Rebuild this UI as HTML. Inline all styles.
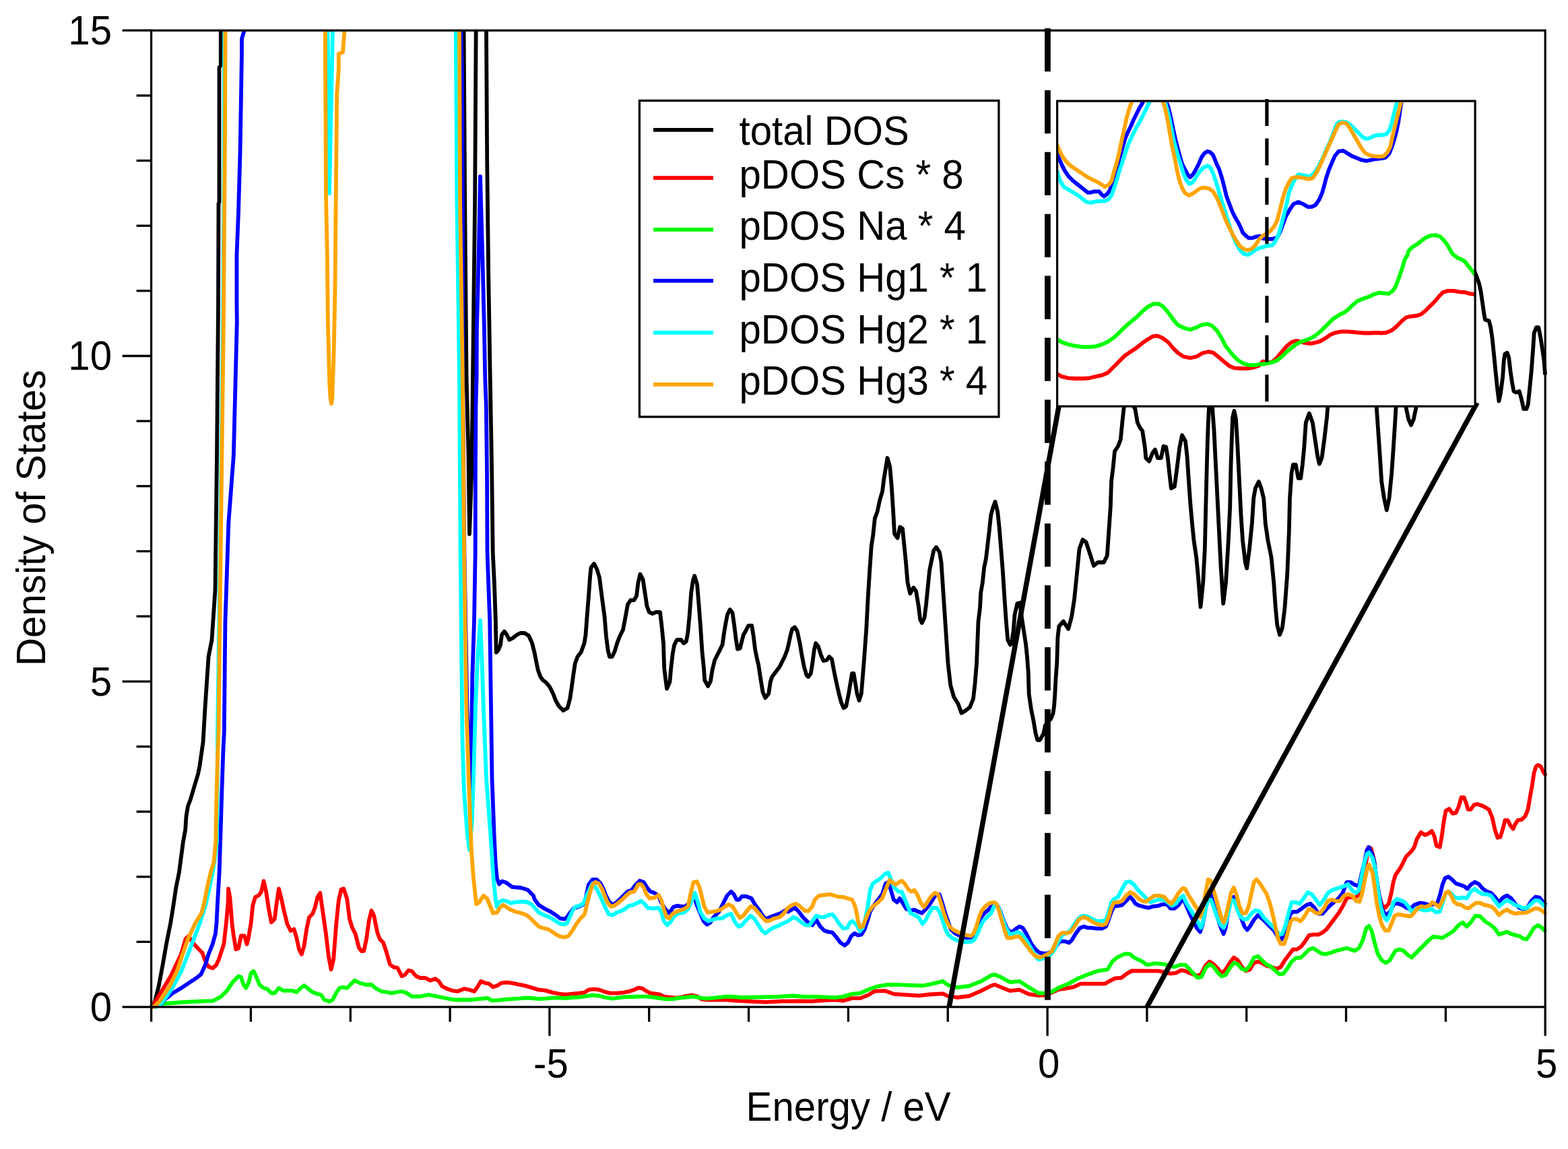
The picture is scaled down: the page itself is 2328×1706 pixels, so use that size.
<!DOCTYPE html>
<html><head><meta charset="utf-8"><title>DOS plot</title><style>html,body{margin:0;padding:0;background:#fff;}svg{display:block;}</style></head><body>
<svg xmlns="http://www.w3.org/2000/svg" width="2328" height="1706" viewBox="0 0 2328 1706">
<rect width="2328" height="1706" fill="#fff"/>
<defs><clipPath id="cm"><rect x="221.6" y="45.2" width="2075.6" height="1452.9"/></clipPath>
<clipPath id="ci"><rect x="1569.6" y="150" width="620.5" height="453.3"/></clipPath></defs>
<g clip-path="url(#cm)">
<path d="M224.6 1495.0 L229.7 1488.0 L235.6 1464.4 L241.5 1433.0 L247.0 1401.5 L253.3 1370.0 L256.8 1348.4 L261.3 1318.1 L265.9 1295.4 L268.9 1272.7 L271.9 1250.0 L275.2 1232.0 L276.5 1212.0 L279.0 1197.0 L282.8 1187.0 L286.5 1174.5 L290.2 1162.0 L294.0 1149.5 L296.5 1137.0 L299.0 1119.5 L301.5 1102.0 L304.6 1049.4 L309.6 974.9 L314.5 950.1 L319.5 875.7 L322.0 677.1 L324.0 453.0 L324.5 302.0 L325.5 300.0 L325.5 100.0 L327.8 97.0 L327.8 30.0 L688.0 30.0 L688.6 45.0 L690.2 300.0 L692.6 560.0 L695.4 670.0 L697.0 793.0 L700.3 700.0 L702.0 560.0 L705.1 300.0 L706.7 45.0 L707.0 30.0 L722.0 30.0 L722.0 45.0 L723.2 240.0 L725.2 407.0 L727.7 560.0 L730.2 700.0 L731.7 820.0 L734.0 868.0 L735.9 922.4 L736.7 968.7 L740.0 965.0 L743.0 957.5 L745.0 942.5 L748.8 937.5 L752.5 942.5 L756.2 950.0 L761.2 947.5 L767.5 942.5 L772.5 940.0 L778.8 940.0 L785.0 943.8 L790.0 955.0 L793.8 970.0 L796.2 982.5 L798.8 995.0 L802.5 1005.0 L806.2 1010.0 L811.2 1013.8 L816.2 1020.0 L821.2 1030.0 L825.0 1040.0 L830.0 1048.8 L836.2 1055.0 L842.5 1051.2 L846.2 1037.5 L848.8 1020.0 L851.2 1002.5 L853.8 985.0 L857.5 975.0 L862.5 968.8 L867.5 955.0 L869.5 942.5 L871.2 920.0 L873.8 887.5 L876.2 855.0 L877.5 842.5 L882.0 837.0 L886.2 845.0 L890.0 857.5 L893.8 887.5 L897.5 915.0 L900.0 945.0 L902.5 965.0 L905.0 975.0 L908.8 975.0 L912.5 967.5 L916.2 955.0 L920.0 945.0 L925.0 935.0 L928.8 915.0 L932.0 897.5 L936.2 891.2 L941.2 891.2 L945.0 885.0 L947.5 865.0 L950.5 852.5 L954.5 860.0 L957.5 880.0 L960.5 900.0 L963.8 908.8 L968.8 911.2 L973.8 908.8 L980.0 908.8 L982.5 930.0 L985.0 955.0 L986.2 992.5 L990.0 1022.5 L994.5 1012.5 L996.2 992.5 L998.8 970.0 L1001.2 957.5 L1005.0 950.0 L1011.2 950.0 L1015.0 955.0 L1018.8 952.5 L1021.2 940.0 L1023.8 912.5 L1026.2 880.0 L1028.8 862.5 L1031.2 855.0 L1035.0 867.5 L1037.5 897.5 L1040.0 930.0 L1042.5 967.5 L1045.0 992.5 L1046.2 1010.0 L1051.2 1018.8 L1055.0 1011.2 L1057.5 995.0 L1061.2 980.0 L1065.0 972.5 L1068.8 965.0 L1072.5 957.5 L1075.0 940.0 L1077.5 925.0 L1080.0 912.5 L1083.8 905.0 L1087.5 910.0 L1090.0 927.5 L1092.5 947.5 L1095.0 963.8 L1098.8 962.5 L1101.2 952.5 L1103.8 942.5 L1107.5 936.2 L1111.2 928.8 L1116.2 928.8 L1118.8 945.0 L1121.2 965.0 L1123.8 977.5 L1126.2 987.5 L1128.8 1005.0 L1132.5 1027.5 L1136.2 1036.2 L1141.2 1030.0 L1143.8 1012.5 L1146.2 1005.0 L1150.0 1000.0 L1153.8 995.0 L1157.5 990.0 L1161.2 982.5 L1165.0 975.0 L1168.8 965.0 L1171.2 955.0 L1173.8 942.5 L1176.2 933.8 L1180.0 931.2 L1183.8 937.5 L1187.5 955.0 L1190.0 970.0 L1193.8 990.0 L1197.5 1002.5 L1200.0 1005.0 L1203.8 1000.0 L1206.2 985.0 L1208.8 965.0 L1211.2 955.0 L1215.0 960.0 L1218.8 972.5 L1222.5 981.2 L1227.5 980.0 L1231.2 975.0 L1235.0 978.8 L1237.5 992.5 L1240.0 1005.0 L1243.8 1022.5 L1246.2 1032.5 L1248.8 1042.5 L1252.5 1051.2 L1256.2 1048.8 L1260.0 1030.0 L1262.5 1015.0 L1265.0 1000.0 L1267.5 1000.0 L1270.0 1015.0 L1272.5 1030.0 L1275.5 1040.0 L1278.8 1030.0 L1282.5 985.0 L1286.2 935.0 L1288.8 885.0 L1291.2 847.5 L1293.8 810.0 L1296.2 795.0 L1298.8 770.0 L1302.5 760.0 L1306.2 742.5 L1310.0 730.0 L1312.5 710.0 L1315.0 695.0 L1317.5 680.0 L1321.2 692.5 L1323.8 722.5 L1326.2 760.0 L1328.0 792.5 L1332.5 798.8 L1336.2 782.5 L1340.0 785.0 L1342.5 810.0 L1345.0 835.0 L1347.5 865.0 L1351.2 881.2 L1356.2 872.5 L1360.0 877.5 L1363.8 900.0 L1366.2 920.0 L1368.8 925.0 L1372.5 917.5 L1375.0 897.5 L1377.5 872.5 L1380.0 847.5 L1382.5 835.0 L1386.2 817.5 L1390.0 812.5 L1395.0 820.0 L1397.5 835.0 L1400.0 872.5 L1402.5 910.0 L1405.0 947.5 L1407.5 985.0 L1411.2 1017.5 L1416.2 1035.0 L1422.5 1045.0 L1427.5 1058.8 L1433.8 1055.0 L1440.0 1050.0 L1445.0 1037.5 L1447.5 1015.0 L1450.0 985.0 L1451.2 955.0 L1452.5 922.5 L1455.0 902.5 L1456.2 880.0 L1458.8 865.0 L1461.2 842.5 L1463.8 830.0 L1466.2 810.0 L1468.8 787.5 L1471.2 765.0 L1473.8 755.0 L1477.5 745.0 L1481.2 760.0 L1483.8 785.0 L1486.2 815.0 L1488.8 847.5 L1491.2 885.0 L1493.8 922.5 L1496.2 950.0 L1500.0 957.5 L1501.6 956.0 L1504.6 936.9 L1506.5 912.6 L1510.4 896.0 L1514.2 895.0 L1517.1 917.5 L1520.0 936.9 L1523.0 956.0 L1525.0 975.6 L1526.8 1000.0 L1527.7 1030.7 L1531.1 1053.8 L1534.6 1071.0 L1537.5 1088.4 L1540.3 1098.8 L1543.8 1098.8 L1547.3 1093.0 L1549.6 1088.4 L1551.9 1076.9 L1555.3 1072.3 L1560.0 1067.7 L1563.4 1059.6 L1565.1 1048.0 L1566.3 1030.7 L1567.5 1007.7 L1569.2 984.6 L1570.4 946.5 L1572.3 930.0 L1578.8 922.5 L1586.2 933.8 L1591.2 915.0 L1595.0 890.0 L1598.8 852.5 L1602.5 815.0 L1607.5 801.2 L1612.5 805.0 L1617.5 820.0 L1623.8 840.0 L1630.0 835.0 L1638.8 835.0 L1643.8 825.0 L1646.2 790.0 L1648.8 752.5 L1650.0 715.0 L1652.5 695.0 L1655.0 670.0 L1660.0 662.5 L1663.8 652.5 L1666.2 627.5 L1668.8 603.8 L1671.2 565.0 L1682.5 565.0 L1683.8 605.0 L1685.0 605.0 L1688.8 627.5 L1692.5 635.0 L1696.2 640.0 L1700.0 665.0 L1701.2 680.0 L1706.2 685.0 L1711.2 672.5 L1715.0 667.5 L1718.8 680.0 L1723.8 680.0 L1727.5 662.5 L1731.2 663.8 L1733.8 680.0 L1736.2 702.5 L1738.8 725.0 L1743.8 722.5 L1747.5 695.0 L1751.2 665.0 L1755.0 646.2 L1760.0 655.0 L1762.5 677.5 L1765.0 715.0 L1767.5 750.0 L1770.0 777.5 L1772.5 802.5 L1776.2 827.5 L1778.8 855.0 L1782.5 901.2 L1786.2 865.0 L1788.8 815.0 L1790.0 765.0 L1791.2 715.0 L1792.5 665.0 L1793.8 627.5 L1795.0 605.0 L1796.2 565.0 L1798.8 565.0 L1800.0 605.0 L1802.5 640.0 L1805.0 690.0 L1807.5 740.0 L1810.0 790.0 L1812.5 840.0 L1816.2 896.2 L1820.0 865.0 L1823.8 802.5 L1826.2 752.5 L1827.5 690.0 L1828.8 652.5 L1830.0 620.0 L1832.5 610.0 L1835.0 622.5 L1837.5 665.0 L1840.0 715.0 L1842.5 765.0 L1845.0 802.5 L1848.8 835.0 L1851.2 843.8 L1855.0 815.0 L1858.8 777.5 L1861.2 740.0 L1863.8 725.0 L1868.8 715.0 L1872.5 725.0 L1876.2 740.0 L1878.8 777.5 L1882.5 802.5 L1887.5 827.5 L1891.2 865.0 L1893.8 902.5 L1896.2 927.5 L1900.0 942.5 L1903.8 932.5 L1907.5 902.5 L1911.2 852.5 L1913.8 790.0 L1915.0 740.0 L1917.5 702.5 L1920.0 690.0 L1923.8 690.0 L1927.5 710.0 L1931.2 710.0 L1933.8 690.0 L1936.2 665.0 L1938.8 627.5 L1943.8 613.8 L1948.8 627.5 L1952.5 652.5 L1956.2 677.5 L1958.8 688.8 L1962.5 680.0 L1966.2 652.5 L1970.0 620.0 L1971.2 605.0 L1972.5 565.0 L2042.5 565.0 L2043.8 605.0 L2046.2 640.0 L2048.8 677.5 L2051.2 715.0 L2055.0 740.0 L2058.8 757.5 L2062.5 740.0 L2066.2 702.5 L2068.8 665.0 L2071.2 627.5 L2072.5 605.0 L2073.8 565.0 L2086.2 565.0 L2087.5 605.0 L2091.2 622.5 L2095.0 631.2 L2098.8 622.5 L2102.5 605.0 L2103.8 565.0 L2150.0 560.0 L2180.0 420.0 L2188.0 400.0 L2191.9 409.4 L2196.0 420.9 L2198.5 432.3 L2200.9 448.6 L2203.4 466.6 L2205.0 474.8 L2210.7 476.4 L2213.2 486.2 L2215.6 502.6 L2218.1 527.1 L2220.5 551.6 L2223.0 576.1 L2225.4 595.7 L2227.9 584.3 L2231.1 559.8 L2232.8 535.3 L2234.4 525.5 L2237.7 523.8 L2240.1 530.4 L2242.6 551.6 L2245.0 568.0 L2247.5 581.0 L2250.8 582.7 L2255.7 581.0 L2258.9 592.5 L2262.2 607.2 L2266.3 607.2 L2268.7 600.6 L2271.2 576.1 L2273.6 551.6 L2276.1 518.9 L2277.7 494.4 L2281.0 486.2 L2284.3 486.2 L2287.5 502.6 L2290.0 518.9 L2292.4 535.3 L2294.1 556.5" fill="none" stroke="#000000" stroke-width="5.8" stroke-linejoin="round" stroke-linecap="butt" />
<path d="M224.6 1495.0 L226.5 1494.0 L253.8 1448.7 L268.7 1417.2 L275.8 1393.6 L280.0 1390.0 L286.4 1399.9 L293.5 1407.8 L300.5 1414.8 L303.0 1422.0 L306.0 1430.0 L310.0 1435.5 L315.8 1437.5 L321.0 1433.0 L325.0 1424.0 L329.0 1412.0 L332.4 1401.3 L335.8 1371.0 L338.5 1340.8 L339.0 1319.6 L341.5 1333.2 L344.5 1371.0 L346.5 1387.0 L350.2 1409.5 L354.0 1408.2 L357.8 1389.5 L362.8 1389.5 L366.5 1402.0 L369.0 1392.0 L372.8 1369.5 L375.2 1344.5 L379.0 1332.0 L384.0 1329.5 L387.8 1324.5 L391.5 1308.2 L395.2 1324.5 L399.0 1349.5 L402.8 1369.5 L407.8 1364.5 L410.2 1344.5 L414.0 1319.5 L417.8 1334.5 L421.5 1352.0 L426.5 1372.0 L431.5 1382.0 L436.5 1379.5 L440.2 1392.0 L444.0 1409.5 L447.8 1417.0 L451.5 1404.5 L455.2 1379.5 L459.0 1362.0 L464.0 1357.0 L467.8 1347.0 L471.5 1332.0 L475.2 1325.8 L479.0 1352.0 L484.0 1387.0 L487.8 1419.5 L491.5 1439.5 L495.2 1424.5 L499.0 1374.5 L502.8 1337.0 L506.5 1320.8 L510.2 1319.5 L515.2 1334.5 L519.0 1364.5 L522.8 1377.0 L527.8 1387.0 L532.8 1407.0 L536.5 1412.0 L540.2 1412.0 L544.0 1394.5 L547.8 1367.0 L551.5 1352.0 L555.2 1359.5 L560.2 1384.5 L564.0 1394.5 L569.0 1399.5 L574.0 1414.5 L579.0 1432.0 L584.0 1435.8 L590.2 1437.0 L596.5 1449.5 L601.5 1447.0 L606.5 1440.8 L611.5 1442.0 L617.8 1449.5 L624.0 1452.0 L631.5 1452.0 L639.0 1455.8 L646.5 1453.2 L651.5 1457.0 L656.5 1464.5 L664.0 1468.2 L671.5 1470.8 L679.0 1472.0 L689.0 1468.2 L696.5 1469.5 L704.0 1472.0 L707.8 1467.0 L714.0 1457.0 L720.2 1459.5 L726.0 1460.6 L732.0 1465.6 L738.0 1463.6 L744.0 1459.6 L752.0 1458.6 L759.9 1459.6 L769.9 1461.6 L779.9 1463.6 L789.9 1466.6 L799.9 1469.6 L809.9 1470.6 L819.9 1473.6 L829.9 1475.6 L839.8 1476.6 L849.8 1475.6 L859.8 1474.6 L867.8 1473.6 L873.8 1469.6 L881.8 1468.6 L889.8 1469.6 L897.8 1472.6 L905.8 1474.6 L915.7 1474.6 L925.7 1473.6 L935.7 1471.6 L941.7 1469.6 L947.7 1466.6 L953.7 1467.6 L959.7 1471.6 L965.7 1474.6 L973.7 1475.6 L979.7 1476.6 L985.6 1479.6 L993.6 1480.6 L1003.6 1481.6 L1011.6 1480.6 L1019.6 1478.6 L1027.6 1477.6 L1035.6 1479.6 L1041.6 1483.6 L1049.6 1484.6 L1059.5 1484.6 L1069.5 1484.6 L1079.5 1484.6 L1089.5 1485.6 L1100.0 1486.0 L1118.6 1487.2 L1137.3 1487.8 L1162.1 1486.6 L1187.0 1486.3 L1205.6 1486.6 L1224.2 1485.3 L1240.0 1484.7 L1252.4 1485.8 L1264.8 1482.1 L1277.3 1482.1 L1289.7 1477.1 L1299.0 1471.6 L1314.5 1471.2 L1327.0 1475.9 L1345.6 1477.1 L1364.2 1478.4 L1380.0 1476.5 L1400.0 1475.4 L1407.1 1478.9 L1421.3 1481.0 L1439.0 1478.9 L1456.8 1471.1 L1471.0 1464.0 L1476.7 1461.9 L1485.2 1465.4 L1499.4 1471.1 L1513.6 1469.7 L1527.7 1476.1 L1541.9 1478.2 L1550.5 1477.5 L1560.9 1474.0 L1571.8 1469.0 L1581.2 1467.9 L1593.6 1465.7 L1604.5 1460.6 L1619.0 1460.6 L1640.8 1460.6 L1648.0 1456.3 L1655.3 1452.6 L1664.7 1451.9 L1673.5 1445.4 L1680.7 1441.4 L1709.8 1441.7 L1719.9 1441.6 L1729.9 1443.6 L1737.8 1445.6 L1745.8 1444.6 L1753.8 1440.6 L1759.8 1441.6 L1765.8 1444.6 L1773.8 1447.6 L1779.8 1448.6 L1783.8 1445.6 L1789.8 1433.6 L1795.8 1427.7 L1801.8 1431.6 L1807.7 1437.6 L1813.7 1445.6 L1819.7 1439.6 L1825.7 1429.7 L1831.7 1421.7 L1837.7 1425.7 L1843.7 1435.6 L1849.7 1441.6 L1855.7 1439.6 L1861.7 1429.7 L1867.7 1427.7 L1873.7 1429.7 L1879.7 1433.6 L1887.6 1435.6 L1895.6 1438.6 L1901.6 1435.6 L1907.6 1425.7 L1913.6 1417.7 L1919.6 1409.7 L1925.6 1409.7 L1931.6 1405.7 L1937.6 1397.7 L1943.6 1388.7 L1949.6 1387.7 L1957.5 1387.7 L1963.5 1384.7 L1969.5 1379.7 L1975.5 1371.7 L1981.5 1363.7 L1987.5 1355.8 L1993.5 1345.8 L1999.5 1333.8 L2005.5 1331.8 L2011.5 1333.8 L2017.5 1327.8 L2022.5 1309.8 L2027.5 1285.8 L2031.4 1257.9 L2035.8 1259.8 L2039.8 1275.8 L2043.8 1305.7 L2047.8 1329.7 L2051.8 1343.7 L2056.8 1347.7 L2061.8 1341.7 L2065.7 1325.7 L2068.7 1309.7 L2071.7 1299.7 L2075.7 1293.7 L2079.7 1287.7 L2083.7 1279.7 L2087.7 1271.8 L2091.7 1267.8 L2095.7 1263.8 L2099.7 1257.8 L2103.7 1245.8 L2109.7 1235.8 L2115.7 1239.8 L2120.7 1237.8 L2125.7 1233.8 L2129.7 1241.8 L2132.7 1255.8 L2137.7 1257.8 L2140.6 1241.8 L2143.6 1219.8 L2146.6 1203.8 L2151.6 1200.9 L2156.6 1207.8 L2161.6 1206.8 L2165.6 1197.9 L2169.6 1183.9 L2173.6 1183.9 L2176.6 1191.9 L2179.6 1201.9 L2183.6 1201.9 L2188.6 1194.9 L2193.6 1193.9 L2199.6 1195.9 L2205.6 1198.9 L2210.6 1201.9 L2215.5 1213.8 L2219.5 1231.8 L2223.5 1243.8 L2227.5 1242.8 L2231.5 1229.8 L2234.5 1217.8 L2238.5 1217.8 L2242.5 1225.8 L2246.5 1230.8 L2249.5 1223.8 L2253.5 1217.8 L2259.5 1216.8 L2264.5 1211.8 L2268.5 1201.9 L2271.5 1183.9 L2274.5 1167.9 L2277.5 1147.9 L2280.5 1137.9 L2283.5 1135.9 L2287.5 1137.9 L2291.4 1145.9 L2295.4 1151.9" fill="none" stroke="#ff0000" stroke-width="5.8" stroke-linejoin="round" stroke-linecap="butt" />
<path d="M224.6 1495.0 L240.7 1490.4 L272.2 1488.0 L305.0 1486.4 L315.8 1486.1 L327.9 1480.0 L337.0 1470.9 L345.0 1458.8 L354.0 1449.5 L357.8 1450.8 L361.5 1462.0 L365.2 1467.0 L369.0 1459.5 L372.8 1444.5 L376.5 1442.0 L380.2 1449.5 L385.2 1462.0 L391.5 1467.0 L396.5 1468.2 L402.8 1474.5 L407.8 1474.5 L414.0 1467.0 L420.2 1470.8 L426.5 1470.8 L434.0 1470.8 L440.2 1473.2 L446.5 1467.0 L451.5 1463.2 L456.5 1467.0 L464.0 1473.2 L471.5 1475.8 L476.5 1477.0 L481.5 1484.5 L489.0 1487.0 L494.0 1484.5 L499.0 1474.5 L504.0 1467.0 L509.0 1465.8 L515.2 1467.0 L520.2 1462.0 L526.5 1455.8 L534.0 1459.5 L542.8 1462.0 L551.5 1462.0 L559.0 1468.2 L566.5 1472.0 L574.0 1473.2 L581.5 1474.5 L589.0 1473.2 L596.5 1472.0 L604.0 1474.5 L611.5 1479.5 L624.0 1479.5 L636.5 1477.0 L649.0 1479.5 L661.5 1482.0 L674.0 1484.5 L686.5 1484.5 L699.0 1484.5 L711.5 1483.2 L724.0 1482.0 L730.0 1485.6 L740.0 1485.2 L750.0 1484.0 L759.9 1483.2 L769.9 1482.6 L779.9 1481.6 L789.9 1482.0 L799.9 1483.2 L809.9 1482.6 L819.9 1481.6 L829.9 1481.6 L839.8 1482.0 L849.8 1481.2 L859.8 1480.6 L869.8 1479.2 L879.8 1477.6 L889.8 1478.6 L899.8 1481.2 L909.7 1482.6 L919.7 1481.2 L929.7 1480.2 L939.7 1480.2 L949.7 1479.6 L959.7 1479.6 L969.7 1480.6 L979.7 1482.2 L989.6 1483.6 L999.6 1483.2 L1009.6 1481.6 L1019.6 1480.6 L1029.6 1479.6 L1039.6 1481.6 L1049.6 1482.6 L1059.5 1481.6 L1069.5 1480.6 L1079.5 1479.6 L1089.5 1480.0 L1100.0 1481.0 L1131.0 1480.4 L1156.0 1479.8 L1177.6 1478.5 L1193.0 1479.8 L1211.8 1479.8 L1240.0 1481.2 L1252.4 1479.6 L1264.8 1475.9 L1277.3 1474.7 L1289.7 1469.1 L1302.1 1464.7 L1317.6 1462.2 L1333.2 1462.2 L1351.8 1462.9 L1370.4 1463.5 L1380.0 1461.6 L1400.0 1456.9 L1407.1 1462.6 L1421.3 1466.1 L1439.0 1464.0 L1456.8 1456.9 L1471.0 1448.4 L1476.7 1447.0 L1485.2 1450.5 L1499.4 1458.3 L1513.6 1456.9 L1527.7 1466.1 L1541.9 1474.6 L1550.5 1474.6 L1560.9 1473.0 L1571.8 1466.4 L1586.3 1460.6 L1600.8 1452.6 L1615.4 1446.8 L1629.9 1441.7 L1644.4 1439.5 L1651.7 1427.2 L1658.9 1421.4 L1669.8 1416.3 L1677.1 1416.3 L1684.3 1422.1 L1695.2 1427.2 L1702.5 1432.3 L1710.0 1431.6 L1711.9 1430.7 L1719.9 1430.7 L1727.9 1431.6 L1735.8 1433.6 L1743.8 1435.6 L1751.8 1432.6 L1759.8 1432.6 L1765.8 1438.6 L1771.8 1445.6 L1777.8 1451.6 L1783.8 1450.6 L1789.8 1437.6 L1795.8 1431.6 L1801.8 1435.6 L1807.7 1443.6 L1813.7 1449.6 L1819.7 1447.6 L1825.7 1437.6 L1831.7 1429.7 L1837.7 1431.6 L1843.7 1438.6 L1849.7 1440.6 L1855.7 1433.6 L1861.7 1421.7 L1867.7 1419.7 L1873.7 1425.7 L1879.7 1431.6 L1887.6 1435.6 L1893.6 1441.6 L1899.6 1446.6 L1905.6 1445.6 L1911.6 1437.6 L1917.6 1427.7 L1923.6 1422.7 L1931.6 1421.7 L1937.6 1415.7 L1943.6 1409.7 L1949.6 1407.7 L1955.6 1411.7 L1961.5 1415.7 L1967.5 1416.7 L1975.5 1414.7 L1983.5 1411.7 L1991.5 1409.7 L1999.5 1407.7 L2005.5 1409.7 L2011.5 1411.7 L2017.5 1407.7 L2023.5 1395.7 L2028.5 1377.7 L2032.4 1374.7 L2036.4 1381.7 L2040.4 1397.7 L2045.4 1415.7 L2051.4 1425.7 L2057.4 1429.7 L2063.4 1425.7 L2071.7 1411.6 L2077.7 1409.6 L2083.7 1411.6 L2089.7 1417.6 L2095.7 1421.6 L2103.7 1413.6 L2111.7 1405.6 L2119.7 1397.6 L2127.7 1390.6 L2135.7 1391.6 L2141.6 1392.6 L2149.6 1387.6 L2157.6 1382.6 L2165.6 1373.6 L2171.6 1369.6 L2177.6 1375.6 L2183.6 1369.6 L2190.6 1359.6 L2197.6 1360.6 L2205.6 1368.6 L2213.6 1373.6 L2219.5 1378.6 L2225.5 1387.6 L2231.5 1385.6 L2237.5 1383.6 L2243.5 1386.6 L2249.5 1388.6 L2255.5 1389.6 L2261.5 1393.6 L2266.5 1394.6 L2271.5 1387.6 L2277.5 1377.6 L2283.5 1373.6 L2289.4 1377.6 L2295.4 1383.6" fill="none" stroke="#00ff00" stroke-width="5.8" stroke-linejoin="round" stroke-linecap="butt" />
<path d="M224.6 1495.0 L238.6 1492.0 L244.7 1484.0 L256.5 1474.6 L268.3 1467.6 L280.1 1459.7 L291.9 1451.8 L298.4 1446.7 L305.2 1431.6 L309.7 1416.5 L315.8 1401.3 L320.0 1386.0 L321.5 1370.0 L323.0 1340.8 L325.6 1295.4 L327.1 1250.0 L329.0 1187.0 L330.2 1149.5 L331.5 1112.0 L332.8 1087.0 L334.4 925.3 L339.3 776.4 L346.8 677.1 L351.8 478.6 L351.5 453.0 L351.5 377.5 L354.0 315.0 L356.5 227.5 L357.8 152.5 L359.0 77.5 L359.0 57.5 L362.8 45.0 L364.0 30.0 L489.0 30.0 L489.5 44.0 L490.0 30.0 L684.5 30.0 L684.5 45.0 L686.0 108.0 L686.5 200.0 L686.8 300.0 L687.0 560.0 L689.4 820.0 L693.5 1050.0 L697.5 1160.0 L699.0 1185.0 L700.0 1100.0 L701.3 1004.0 L704.0 922.0 L705.7 820.0 L705.9 700.0 L706.5 602.0 L707.6 560.0 L707.9 491.0 L710.7 379.0 L713.0 262.0 L716.3 379.0 L719.0 491.0 L720.2 560.0 L721.8 602.0 L723.0 700.0 L723.5 820.0 L727.2 922.0 L730.5 1155.9 L733.7 1240.7 L735.8 1283.1 L737.9 1304.2 L741.1 1312.7 L745.3 1308.5 L751.7 1310.6 L760.2 1316.9 L772.9 1318.0 L783.5 1321.2 L791.9 1329.7 L793.9 1335.8 L799.9 1343.8 L807.9 1348.8 L815.9 1352.8 L823.9 1357.7 L831.9 1363.7 L837.8 1364.7 L841.8 1361.7 L845.8 1355.8 L851.8 1348.8 L859.8 1345.8 L867.8 1341.8 L873.8 1313.8 L879.8 1305.8 L885.8 1305.8 L891.8 1311.8 L895.8 1319.8 L899.8 1329.8 L903.8 1337.8 L909.7 1343.8 L917.7 1337.8 L925.7 1329.8 L931.7 1323.8 L937.7 1321.8 L943.7 1313.8 L949.7 1307.8 L955.7 1309.8 L960.7 1317.8 L965.7 1323.8 L971.7 1325.8 L977.7 1329.8 L981.6 1339.8 L987.6 1349.8 L993.6 1355.8 L999.6 1346.8 L1005.6 1344.8 L1011.6 1345.8 L1017.6 1345.8 L1022.6 1341.8 L1027.6 1329.8 L1030.6 1331.8 L1034.6 1343.8 L1039.6 1355.8 L1044.6 1367.7 L1049.6 1372.7 L1054.6 1369.7 L1059.5 1361.7 L1067.5 1353.8 L1073.5 1341.8 L1079.5 1329.8 L1085.5 1323.8 L1089.5 1327.8 L1093.5 1335.8 L1097.5 1335.8 L1101.5 1330.8 L1107.5 1330.8 L1115.5 1333.8 L1121.5 1343.8 L1127.5 1351.8 L1132.4 1359.7 L1137.4 1364.7 L1143.4 1361.7 L1151.4 1358.7 L1159.4 1355.8 L1167.4 1350.8 L1170.0 1353.8 L1180.0 1347.8 L1186.0 1353.8 L1192.0 1361.7 L1200.0 1369.7 L1206.0 1373.7 L1211.9 1365.7 L1217.9 1375.7 L1223.9 1381.7 L1229.9 1383.7 L1235.9 1384.7 L1241.9 1391.7 L1247.9 1399.7 L1253.9 1403.7 L1258.9 1399.7 L1263.9 1389.7 L1268.9 1385.7 L1273.9 1388.7 L1278.9 1387.7 L1283.8 1379.7 L1287.8 1367.7 L1291.8 1353.8 L1297.8 1343.8 L1303.8 1335.8 L1309.8 1327.8 L1314.8 1311.8 L1318.8 1309.8 L1322.8 1321.8 L1326.8 1335.8 L1331.8 1339.8 L1335.8 1333.8 L1340.8 1341.8 L1345.8 1349.8 L1351.8 1351.8 L1357.7 1350.8 L1363.7 1353.8 L1368.7 1355.8 L1373.7 1350.8 L1379.7 1343.8 L1384.7 1335.8 L1389.7 1327.8 L1394.7 1327.8 L1398.7 1339.8 L1402.7 1353.8 L1406.7 1365.7 L1411.7 1379.7 L1417.7 1385.7 L1423.7 1388.7 L1429.7 1391.7 L1435.6 1392.7 L1441.6 1391.7 L1447.6 1385.7 L1451.6 1373.7 L1455.6 1363.7 L1461.6 1355.8 L1467.6 1350.8 L1471.6 1345.8 L1477.6 1343.8 L1481.6 1345.8 L1485.6 1353.8 L1489.6 1365.7 L1495.6 1379.7 L1501.6 1384.7 L1507.5 1379.7 L1513.5 1375.7 L1518.5 1377.7 L1523.5 1385.7 L1527.5 1393.7 L1531.5 1401.7 L1537.5 1409.7 L1543.5 1414.7 L1549.5 1415.7 L1555.5 1415.7 L1561.5 1412.7 L1567.5 1405.7 L1573.5 1397.7 L1581.4 1397.7 L1587.4 1399.7 L1591.4 1395.7 L1597.4 1385.7 L1603.4 1377.7 L1609.4 1375.7 L1615.4 1377.7 L1620.0 1377.7 L1628.0 1378.7 L1636.0 1378.7 L1642.0 1375.7 L1646.0 1365.7 L1650.0 1353.8 L1654.0 1345.8 L1659.9 1344.8 L1665.9 1343.8 L1671.9 1337.8 L1677.9 1331.8 L1681.9 1335.8 L1685.9 1341.8 L1691.9 1344.8 L1699.9 1346.8 L1705.9 1347.8 L1711.9 1345.8 L1719.9 1344.8 L1725.9 1342.8 L1731.9 1341.8 L1737.8 1348.8 L1743.8 1348.8 L1749.8 1343.8 L1756.8 1333.8 L1761.8 1345.8 L1766.8 1357.7 L1771.8 1367.7 L1776.8 1377.7 L1781.8 1383.7 L1785.8 1371.7 L1789.8 1349.8 L1793.8 1329.8 L1797.8 1327.8 L1800.8 1339.8 L1804.8 1353.8 L1808.7 1365.7 L1812.7 1377.7 L1816.7 1386.7 L1819.7 1377.7 L1823.7 1353.8 L1827.7 1335.8 L1831.7 1331.8 L1835.7 1339.8 L1839.7 1353.8 L1843.7 1365.7 L1847.7 1375.7 L1851.7 1380.7 L1855.7 1375.7 L1861.7 1365.7 L1867.7 1358.7 L1873.7 1363.7 L1879.7 1369.7 L1885.6 1375.7 L1891.6 1381.7 L1897.6 1391.7 L1902.6 1394.7 L1907.6 1385.7 L1911.6 1369.7 L1915.6 1357.7 L1919.6 1353.8 L1925.6 1353.8 L1931.6 1349.8 L1939.6 1343.8 L1945.6 1341.8 L1951.6 1347.8 L1957.5 1356.7 L1963.5 1356.7 L1969.5 1349.8 L1975.5 1343.8 L1981.5 1338.8 L1987.5 1333.8 L1993.5 1325.8 L1999.5 1309.8 L2005.5 1309.8 L2011.5 1313.8 L2017.5 1315.8 L2021.5 1297.8 L2025.5 1281.9 L2029.5 1261.9 L2032.4 1257.9 L2037.8 1269.8 L2040.8 1281.7 L2043.8 1305.7 L2047.8 1329.7 L2051.8 1349.7 L2057.8 1359.6 L2063.8 1353.6 L2069.7 1341.7 L2075.7 1341.7 L2081.7 1343.7 L2087.7 1347.7 L2093.7 1349.7 L2099.7 1343.7 L2107.7 1340.7 L2115.7 1341.7 L2121.7 1343.7 L2127.7 1342.7 L2133.7 1341.7 L2137.7 1329.7 L2141.6 1313.7 L2145.6 1303.7 L2150.6 1301.7 L2155.6 1305.7 L2161.6 1311.7 L2167.6 1313.7 L2173.6 1315.7 L2178.6 1319.7 L2183.6 1313.7 L2189.6 1309.7 L2195.6 1312.7 L2201.6 1319.7 L2207.6 1323.7 L2213.6 1325.7 L2219.5 1331.7 L2225.5 1339.7 L2231.5 1332.7 L2237.5 1329.7 L2243.5 1333.7 L2249.5 1341.7 L2255.5 1347.7 L2261.5 1349.7 L2267.5 1347.7 L2273.5 1337.7 L2279.5 1331.7 L2285.5 1332.7 L2291.4 1339.7 L2295.4 1344.1" fill="none" stroke="#0000ff" stroke-width="5.8" stroke-linejoin="round" stroke-linecap="butt" />
<path d="M224.6 1495.0 L232.0 1495.0 L238.0 1492.0 L247.0 1480.0 L257.3 1464.4 L269.8 1440.8 L278.9 1417.2 L288.0 1393.6 L297.0 1370.0 L306.0 1340.8 L311.0 1318.0 L315.8 1295.4 L319.0 1275.0 L321.9 1250.0 L322.5 1200.0 L323.0 1087.0 L326.0 875.0 L328.5 677.0 L331.0 478.0 L332.5 280.0 L333.0 100.0 L333.5 30.0 L485.0 30.0 L486.5 45.0 L489.0 287.0 L494.0 45.0 L494.5 30.0 L676.5 30.0 L676.8 45.0 L678.4 300.0 L682.0 560.0 L683.6 820.0 L686.0 1050.0 L686.5 1100.0 L689.0 1177.0 L694.0 1240.0 L697.0 1262.0 L700.8 1219.5 L703.0 1156.0 L706.0 1050.0 L709.0 980.0 L713.0 921.0 L715.5 980.0 L717.8 1050.0 L722.0 1156.0 L728.4 1240.7 L732.6 1304.0 L735.8 1336.0 L737.9 1346.6 L740.0 1339.8 L746.0 1336.8 L752.0 1337.8 L757.9 1340.8 L763.9 1339.8 L771.9 1338.8 L779.9 1338.8 L787.9 1341.8 L793.9 1347.8 L799.9 1354.8 L807.9 1358.7 L815.9 1361.7 L823.9 1366.7 L831.9 1371.7 L837.8 1372.7 L841.8 1370.7 L845.8 1361.7 L849.8 1352.8 L853.8 1346.8 L859.8 1344.8 L865.8 1341.8 L871.8 1327.8 L879.8 1311.8 L885.8 1319.8 L891.8 1331.8 L897.8 1345.8 L903.8 1357.7 L909.7 1358.7 L915.7 1354.8 L921.7 1352.8 L927.7 1349.8 L933.7 1344.8 L939.7 1343.8 L945.7 1340.8 L951.7 1337.8 L956.7 1341.8 L961.7 1347.8 L969.7 1348.8 L977.7 1347.8 L981.6 1353.8 L985.6 1367.7 L990.6 1373.7 L995.6 1368.7 L1001.6 1359.7 L1007.6 1355.8 L1015.6 1354.8 L1021.6 1349.8 L1027.6 1335.8 L1031.6 1325.8 L1035.6 1337.8 L1039.6 1353.8 L1045.6 1363.7 L1051.6 1367.7 L1057.5 1365.7 L1063.5 1363.7 L1071.5 1363.7 L1079.5 1358.7 L1085.5 1356.7 L1091.5 1369.7 L1096.5 1375.7 L1101.5 1373.7 L1107.5 1366.7 L1114.5 1359.7 L1119.5 1363.7 L1125.5 1372.7 L1131.4 1381.7 L1136.4 1385.7 L1141.4 1381.7 L1147.4 1377.7 L1155.4 1374.7 L1163.4 1370.7 L1170.0 1367.7 L1178.0 1361.7 L1184.0 1364.7 L1190.0 1369.7 L1196.0 1373.7 L1202.0 1373.7 L1206.0 1367.7 L1211.9 1359.7 L1217.9 1361.7 L1223.9 1361.7 L1229.9 1358.7 L1235.9 1357.7 L1240.9 1363.7 L1245.9 1371.7 L1251.9 1378.7 L1257.9 1377.7 L1261.9 1369.7 L1265.9 1367.7 L1271.9 1373.7 L1276.9 1382.7 L1280.9 1377.7 L1284.8 1363.7 L1288.8 1343.8 L1291.8 1321.8 L1295.8 1311.8 L1301.8 1307.8 L1307.8 1303.8 L1313.8 1297.8 L1318.8 1295.8 L1322.8 1305.8 L1327.8 1317.8 L1333.8 1323.8 L1338.8 1323.8 L1343.8 1335.8 L1347.8 1345.8 L1351.8 1355.8 L1357.7 1358.7 L1363.7 1361.7 L1369.7 1371.7 L1374.7 1365.7 L1379.7 1355.8 L1384.7 1347.8 L1390.7 1347.8 L1395.7 1355.8 L1399.7 1367.7 L1403.7 1379.7 L1407.7 1387.7 L1413.7 1392.7 L1419.7 1395.7 L1425.7 1397.7 L1431.6 1398.7 L1437.6 1398.7 L1443.6 1397.7 L1447.6 1393.7 L1451.6 1385.7 L1455.6 1375.7 L1459.6 1367.7 L1465.6 1361.7 L1471.6 1355.8 L1475.6 1345.8 L1479.6 1343.8 L1483.6 1349.8 L1487.6 1361.7 L1493.6 1377.7 L1499.6 1387.7 L1505.6 1385.7 L1511.5 1383.7 L1517.5 1387.7 L1523.5 1395.7 L1529.5 1405.7 L1535.5 1415.7 L1541.5 1424.7 L1547.5 1423.7 L1553.5 1419.7 L1559.5 1417.7 L1565.5 1409.7 L1571.5 1397.7 L1577.5 1387.7 L1583.4 1385.7 L1589.4 1381.7 L1595.4 1371.7 L1601.4 1363.7 L1607.4 1359.7 L1613.4 1360.7 L1620.0 1363.7 L1628.0 1367.7 L1636.0 1367.7 L1642.0 1365.7 L1646.0 1353.8 L1650.0 1339.8 L1654.0 1334.8 L1659.9 1331.8 L1665.9 1319.8 L1671.9 1309.8 L1677.9 1308.8 L1683.9 1313.8 L1689.9 1321.8 L1695.9 1327.8 L1701.9 1333.8 L1707.9 1339.8 L1713.9 1337.8 L1719.9 1335.8 L1727.9 1335.8 L1733.8 1339.8 L1739.8 1344.8 L1745.8 1341.8 L1751.8 1333.8 L1756.8 1329.8 L1761.8 1341.8 L1766.8 1349.8 L1771.8 1357.7 L1777.8 1367.7 L1782.8 1377.7 L1785.8 1369.7 L1789.8 1349.8 L1793.8 1335.8 L1797.8 1335.8 L1800.8 1343.8 L1804.8 1355.8 L1808.7 1365.7 L1812.7 1373.7 L1816.7 1377.7 L1820.7 1367.7 L1824.7 1349.8 L1828.7 1335.8 L1832.7 1337.8 L1836.7 1349.8 L1840.7 1359.7 L1845.7 1364.7 L1851.7 1364.7 L1857.7 1356.7 L1863.7 1351.8 L1869.7 1352.8 L1875.7 1361.7 L1881.6 1367.7 L1887.6 1373.7 L1893.6 1379.7 L1899.6 1387.7 L1903.6 1386.7 L1908.6 1373.7 L1912.6 1357.7 L1917.6 1339.8 L1923.6 1339.8 L1929.6 1341.8 L1935.6 1333.8 L1941.6 1324.8 L1947.6 1327.8 L1953.6 1335.8 L1959.5 1343.8 L1965.5 1335.8 L1971.5 1325.8 L1977.5 1321.8 L1983.5 1319.8 L1989.5 1317.8 L1995.5 1315.8 L2001.5 1312.8 L2007.5 1321.8 L2013.5 1325.8 L2017.5 1321.8 L2021.5 1301.8 L2025.5 1281.9 L2029.5 1267.9 L2032.4 1265.9 L2037.8 1273.8 L2041.8 1289.7 L2045.8 1319.7 L2049.8 1345.7 L2053.8 1359.6 L2058.8 1366.6 L2063.8 1357.6 L2068.7 1339.7 L2073.7 1334.7 L2079.7 1336.7 L2085.7 1339.7 L2090.7 1345.7 L2095.7 1353.6 L2101.7 1349.7 L2107.7 1349.7 L2113.7 1351.6 L2119.7 1351.6 L2125.7 1349.7 L2131.7 1354.6 L2137.7 1353.6 L2141.6 1341.7 L2145.6 1327.7 L2150.6 1323.7 L2155.6 1327.7 L2160.6 1332.7 L2165.6 1333.7 L2171.6 1332.7 L2177.6 1333.7 L2183.6 1323.7 L2189.6 1319.7 L2195.6 1324.7 L2201.6 1327.7 L2207.6 1327.7 L2213.6 1329.7 L2219.5 1337.7 L2225.5 1345.7 L2231.5 1340.7 L2237.5 1336.7 L2243.5 1339.7 L2249.5 1343.7 L2255.5 1345.7 L2261.5 1348.7 L2267.5 1347.7 L2273.5 1341.7 L2279.5 1336.7 L2285.5 1337.7 L2291.4 1343.7 L2295.4 1347.3" fill="none" stroke="#00ffff" stroke-width="5.8" stroke-linejoin="round" stroke-linecap="butt" />
<path d="M224.6 1495.0 L228.0 1495.0 L236.0 1488.0 L251.8 1464.4 L263.2 1440.8 L271.0 1417.2 L279.3 1393.6 L290.3 1370.0 L299.2 1355.9 L303.2 1340.8 L307.5 1318.1 L312.8 1295.4 L317.3 1280.3 L320.3 1250.0 L320.8 1212.0 L322.0 1162.0 L323.5 1112.0 L324.5 1087.0 L326.9 875.7 L329.4 677.1 L331.9 478.6 L333.4 280.0 L334.0 200.0 L334.5 45.0 L335.0 30.0 L482.5 30.0 L482.8 45.0 L484.0 290.0 L485.8 380.0 L486.9 482.0 L488.0 522.0 L489.2 569.0 L490.5 590.0 L492.0 599.5 L493.3 590.0 L494.0 569.0 L495.2 537.0 L496.3 490.0 L497.4 432.0 L497.9 380.0 L499.0 265.0 L500.2 140.0 L502.8 102.5 L502.8 80.0 L509.0 77.5 L511.5 45.0 L512.0 30.0 L682.0 30.0 L682.0 45.0 L683.1 300.0 L686.8 560.0 L689.1 820.0 L692.4 1050.0 L696.0 1160.0 L699.8 1262.0 L703.0 1304.0 L707.2 1342.4 L711.4 1340.0 L717.8 1329.7 L723.1 1334.0 L728.0 1345.8 L732.0 1355.8 L738.0 1354.8 L742.0 1347.8 L747.0 1343.8 L752.0 1346.8 L757.9 1350.8 L765.9 1353.8 L773.9 1355.8 L781.9 1358.7 L787.9 1363.7 L793.9 1369.7 L799.9 1375.7 L805.9 1377.7 L813.9 1379.7 L819.9 1383.7 L825.9 1387.7 L831.9 1390.7 L837.8 1391.7 L843.8 1389.7 L849.8 1381.7 L855.8 1371.7 L861.8 1363.7 L867.8 1357.7 L871.8 1341.8 L875.8 1325.8 L879.8 1313.8 L883.8 1309.8 L888.8 1311.8 L893.8 1319.8 L897.8 1329.8 L901.8 1339.8 L906.7 1345.8 L911.7 1344.8 L917.7 1340.8 L923.7 1335.8 L929.7 1329.8 L935.7 1324.8 L941.7 1323.8 L947.7 1312.8 L951.7 1312.8 L955.7 1317.8 L959.7 1327.8 L964.7 1333.8 L971.7 1332.8 L977.7 1328.8 L981.6 1335.8 L985.6 1349.8 L989.6 1361.7 L993.6 1363.7 L997.6 1357.7 L1003.6 1353.8 L1009.6 1351.8 L1015.6 1349.8 L1021.6 1345.8 L1025.6 1325.8 L1029.6 1309.8 L1034.6 1308.8 L1038.6 1317.8 L1041.6 1329.8 L1045.6 1345.8 L1050.6 1354.8 L1057.5 1353.8 L1063.5 1352.8 L1069.5 1350.8 L1075.5 1346.8 L1081.5 1342.8 L1087.5 1345.8 L1093.5 1355.8 L1098.5 1362.7 L1103.5 1359.7 L1109.5 1351.8 L1114.5 1345.8 L1119.5 1347.8 L1125.5 1354.8 L1131.4 1361.7 L1137.4 1367.7 L1143.4 1366.7 L1149.4 1363.7 L1157.4 1361.7 L1163.4 1356.7 L1170.0 1347.8 L1176.0 1343.8 L1182.0 1341.8 L1188.0 1345.8 L1194.0 1351.8 L1200.0 1352.8 L1206.0 1345.8 L1209.9 1335.8 L1215.9 1329.8 L1223.9 1328.8 L1231.9 1327.8 L1238.9 1329.8 L1245.9 1331.8 L1251.9 1331.8 L1257.9 1333.8 L1264.9 1335.8 L1268.9 1343.8 L1271.9 1355.8 L1273.9 1367.7 L1276.9 1376.7 L1280.9 1375.7 L1284.8 1365.7 L1289.8 1353.8 L1295.8 1345.8 L1303.8 1339.8 L1309.8 1333.8 L1313.8 1323.8 L1317.8 1313.8 L1320.8 1306.8 L1324.8 1309.8 L1329.8 1313.8 L1334.8 1309.8 L1338.8 1307.8 L1343.8 1312.8 L1348.8 1320.8 L1352.8 1323.8 L1357.7 1321.8 L1362.7 1329.8 L1366.7 1339.8 L1371.7 1346.8 L1376.7 1339.8 L1381.7 1331.8 L1387.7 1325.8 L1392.7 1327.8 L1396.7 1339.8 L1400.7 1353.8 L1404.7 1365.7 L1409.7 1375.7 L1415.7 1380.7 L1421.7 1383.7 L1429.7 1386.7 L1435.6 1388.7 L1441.6 1389.7 L1445.6 1385.7 L1449.6 1375.7 L1453.6 1361.7 L1457.6 1351.8 L1463.6 1344.8 L1469.6 1340.8 L1475.6 1339.8 L1479.6 1341.8 L1483.6 1353.8 L1487.6 1367.7 L1491.6 1381.7 L1495.6 1392.7 L1501.6 1392.7 L1507.5 1390.7 L1513.5 1390.7 L1519.5 1397.7 L1525.5 1405.7 L1531.5 1413.7 L1537.5 1419.7 L1543.5 1421.7 L1549.5 1419.7 L1555.5 1416.7 L1561.5 1412.7 L1566.5 1401.7 L1571.5 1389.7 L1577.5 1384.7 L1583.4 1385.7 L1589.4 1383.7 L1595.4 1375.7 L1601.4 1365.7 L1608.4 1361.7 L1614.4 1363.7 L1620.0 1367.7 L1628.0 1371.7 L1636.0 1373.7 L1642.0 1371.7 L1646.0 1361.7 L1650.0 1347.8 L1654.0 1339.8 L1659.9 1339.8 L1665.9 1337.8 L1671.9 1329.8 L1677.9 1324.8 L1683.9 1327.8 L1689.9 1333.8 L1695.9 1337.8 L1701.9 1338.8 L1707.9 1333.8 L1713.9 1329.8 L1721.9 1329.8 L1728.9 1331.8 L1733.8 1337.8 L1738.8 1341.8 L1743.8 1335.8 L1749.8 1325.8 L1755.8 1318.8 L1759.8 1319.8 L1763.8 1327.8 L1768.8 1335.8 L1773.8 1343.8 L1777.8 1349.8 L1781.8 1361.7 L1785.8 1349.8 L1789.8 1325.8 L1793.8 1305.8 L1797.8 1307.8 L1801.8 1321.8 L1805.8 1335.8 L1809.7 1349.8 L1813.7 1363.7 L1816.7 1369.7 L1819.7 1361.7 L1823.7 1343.8 L1827.7 1325.8 L1831.7 1317.8 L1835.7 1327.8 L1839.7 1343.8 L1844.7 1355.8 L1849.7 1355.8 L1853.7 1345.8 L1857.7 1327.8 L1861.7 1309.8 L1865.7 1305.8 L1870.7 1311.8 L1875.7 1319.8 L1880.7 1327.8 L1885.6 1341.8 L1889.6 1357.7 L1893.6 1375.7 L1897.6 1393.7 L1901.6 1401.7 L1906.6 1401.7 L1910.6 1389.7 L1913.6 1377.7 L1916.6 1367.7 L1919.6 1364.7 L1925.6 1364.7 L1930.6 1367.7 L1934.6 1363.7 L1938.6 1357.7 L1942.6 1349.8 L1947.6 1350.8 L1953.6 1355.8 L1959.5 1355.8 L1965.5 1348.8 L1971.5 1337.8 L1977.5 1335.8 L1983.5 1337.8 L1989.5 1337.8 L1995.5 1329.8 L2001.5 1327.8 L2007.5 1329.8 L2013.5 1337.8 L2018.5 1338.8 L2022.5 1325.8 L2026.5 1305.8 L2030.4 1287.8 L2032.4 1283.8 L2037.8 1295.7 L2040.8 1315.7 L2043.8 1339.7 L2047.8 1359.6 L2051.8 1373.6 L2056.8 1381.6 L2061.8 1381.6 L2066.7 1369.6 L2070.7 1359.6 L2075.7 1357.6 L2081.7 1358.6 L2087.7 1359.6 L2093.7 1360.6 L2097.7 1357.6 L2103.7 1349.7 L2109.7 1345.7 L2115.7 1346.7 L2121.7 1344.7 L2126.7 1339.7 L2131.7 1342.7 L2136.7 1346.7 L2141.6 1337.7 L2146.6 1325.7 L2150.6 1323.7 L2154.6 1329.7 L2158.6 1338.7 L2163.6 1342.7 L2169.6 1343.7 L2175.6 1347.7 L2180.6 1348.7 L2185.6 1344.7 L2191.6 1340.7 L2197.6 1340.7 L2203.6 1343.7 L2209.6 1344.7 L2215.5 1346.7 L2220.5 1351.6 L2225.5 1358.6 L2231.5 1353.6 L2237.5 1350.7 L2243.5 1354.6 L2249.5 1356.6 L2255.5 1355.6 L2261.5 1355.6 L2267.5 1354.6 L2273.5 1351.6 L2279.5 1348.7 L2285.5 1349.7 L2291.4 1353.6 L2295.4 1357.2" fill="none" stroke="#ffa500" stroke-width="5.8" stroke-linejoin="round" stroke-linecap="butt" />
</g>
<line x1="1555.4" y1="42" x2="1555.4" y2="1495" stroke="#000" stroke-width="8.8" stroke-dasharray="64.3 27.6"/>
<line x1="1409.2" y1="1495" x2="1573" y2="598" stroke="#000" stroke-width="7.5"/>
<line x1="1703" y1="1495" x2="2193" y2="598" stroke="#000" stroke-width="7.5"/>
<rect x="1569.6" y="150" width="620.5" height="453.3" fill="#fff"/>
<g clip-path="url(#ci)">
<path d="M1567.1 554.2 L1569.3 554.9 L1576.4 559.2 L1586.3 561.3 L1596.3 562.0 L1607.7 562.0 L1617.6 561.3 L1626.2 559.2 L1636.1 557.1 L1644.7 553.5 L1653.2 545.0 L1661.7 536.4 L1670.3 527.9 L1678.8 522.2 L1687.3 516.5 L1695.9 509.4 L1704.4 503.7 L1711.5 499.4 L1718.6 498.7 L1725.7 501.6 L1734.3 508.0 L1741.4 516.5 L1748.5 523.6 L1757.0 529.3 L1767.0 531.5 L1776.9 529.3 L1785.5 524.3 L1794.0 522.2 L1801.1 523.6 L1808.2 529.3 L1816.8 536.4 L1825.3 543.5 L1832.4 546.4 L1842.4 547.1 L1852.3 547.1 L1860.9 545.7 L1869.4 542.8 L1875.0 536.4 L1882.1 538.6 L1889.2 537.1 L1896.3 530.7 L1903.4 522.2 L1910.6 513.7 L1917.7 508.0 L1924.8 505.8 L1931.9 508.0 L1939.0 509.4 L1946.1 510.1 L1953.2 508.7 L1960.3 506.6 L1967.5 502.3 L1974.6 497.3 L1983.1 493.8 L1991.6 492.3 L2000.2 492.3 L2008.7 493.0 L2017.2 493.8 L2025.8 494.5 L2034.3 494.5 L2042.9 494.0 L2051.4 494.5 L2058.5 493.8 L2065.6 490.9 L2071.3 486.6 L2077.0 481.0 L2082.7 475.3 L2088.4 471.0 L2095.5 469.6 L2102.6 468.9 L2109.7 466.7 L2116.8 461.0 L2123.9 453.9 L2131.0 446.8 L2136.7 439.7 L2142.4 434.0 L2149.5 431.9 L2158.1 431.9 L2166.6 433.3 L2175.1 434.0 L2182.3 436.1 L2189.4 436.9 L2193.6 437.1" fill="none" stroke="#ff0000" stroke-width="5.8" stroke-linejoin="round" stroke-linecap="butt" />
<path d="M1567.1 503.0 L1569.3 503.7 L1576.4 508.0 L1586.3 511.5 L1596.3 513.7 L1607.7 515.1 L1617.6 515.1 L1626.2 514.4 L1636.1 511.5 L1644.7 507.3 L1653.2 501.6 L1661.7 493.8 L1670.3 485.2 L1678.8 478.1 L1687.3 471.0 L1695.9 462.5 L1704.4 455.3 L1712.9 451.1 L1720.0 451.1 L1727.2 455.3 L1734.3 463.9 L1741.4 473.8 L1748.5 482.4 L1757.0 486.6 L1767.0 489.5 L1775.5 486.6 L1784.1 482.4 L1792.6 481.0 L1799.7 483.8 L1806.8 490.9 L1813.9 502.3 L1819.6 513.7 L1825.3 520.8 L1831.0 527.9 L1838.1 535.0 L1846.7 540.0 L1855.2 542.1 L1863.7 542.1 L1872.3 540.7 L1875.0 540.7 L1882.1 539.3 L1889.2 537.9 L1896.3 535.0 L1903.4 529.3 L1910.6 522.2 L1917.7 516.5 L1924.8 510.8 L1931.9 507.3 L1939.0 505.1 L1946.1 502.3 L1953.2 498.0 L1960.3 492.3 L1966.0 486.6 L1971.7 481.0 L1978.8 473.8 L1987.4 468.2 L1995.9 463.9 L2003.0 458.2 L2008.7 452.5 L2015.8 446.8 L2024.4 443.3 L2032.9 440.4 L2040.0 436.9 L2047.1 434.7 L2054.2 435.4 L2061.3 436.1 L2067.0 432.6 L2071.3 426.9 L2074.1 419.8 L2077.0 412.7 L2079.8 404.1 L2082.7 395.6 L2085.5 385.6 L2089.8 378.5 L2091.2 372.6 L2096.9 366.9 L2104.0 362.6 L2111.1 357.0 L2116.8 352.7 L2123.9 349.8 L2131.0 349.1 L2138.2 351.3 L2143.8 357.0 L2148.1 362.6 L2152.4 369.8 L2156.6 377.0 L2163.8 382.8 L2170.9 385.6 L2175.1 388.5 L2179.4 394.2 L2185.0 401.3 L2189.4 407.0 L2194.0 410.0" fill="none" stroke="#00ff00" stroke-width="5.8" stroke-linejoin="round" stroke-linecap="butt" />
<path d="M1567.1 219.0 L1569.3 220.4 L1572.1 234.6 L1576.4 244.6 L1580.6 253.1 L1586.3 261.6 L1593.4 268.8 L1600.6 274.4 L1607.7 280.1 L1614.8 285.8 L1619.1 285.8 L1624.7 284.4 L1631.9 284.4 L1635.4 288.7 L1639.0 291.5 L1643.2 288.7 L1647.5 283.0 L1650.3 275.9 L1653.2 267.3 L1657.5 253.1 L1661.7 236.0 L1666.0 221.8 L1670.3 206.2 L1674.5 196.2 L1678.8 187.7 L1683.1 177.7 L1687.3 169.2 L1691.6 160.6 L1695.9 153.5 L1698.7 147.8 L1700.1 137.9 L1728.6 137.9 L1730.0 147.8 L1734.3 157.8 L1737.1 169.2 L1740.0 182.0 L1742.8 196.2 L1745.7 209.0 L1749.9 224.7 L1752.8 236.0 L1755.6 244.6 L1759.9 253.1 L1764.1 260.2 L1767.0 263.1 L1771.3 258.8 L1775.5 251.7 L1779.8 243.2 L1784.1 233.2 L1788.3 227.5 L1792.6 224.7 L1796.9 226.1 L1801.1 230.3 L1804.0 237.5 L1806.8 244.6 L1809.7 250.3 L1812.5 258.8 L1815.4 268.8 L1818.2 280.1 L1821.0 291.5 L1825.3 302.9 L1829.6 314.3 L1833.8 322.8 L1838.1 329.9 L1842.4 338.5 L1845.2 345.6 L1849.5 349.8 L1853.8 353.4 L1859.5 353.4 L1865.1 351.3 L1870.8 350.5 L1875.0 354.1 L1882.1 354.8 L1889.2 354.8 L1896.3 352.7 L1900.6 344.1 L1904.9 332.8 L1909.1 321.4 L1914.8 311.4 L1920.5 302.9 L1927.6 300.0 L1934.7 302.9 L1941.9 307.2 L1947.5 307.2 L1953.2 304.3 L1958.9 295.8 L1963.2 285.8 L1966.0 275.9 L1968.9 264.5 L1973.2 251.7 L1977.4 241.7 L1981.7 231.8 L1987.4 224.7 L1994.5 223.9 L2000.2 227.5 L2007.3 231.8 L2014.4 234.6 L2021.5 237.5 L2028.6 238.9 L2035.7 237.5 L2042.9 236.0 L2050.0 235.3 L2057.1 233.9 L2062.8 227.5 L2066.3 219.0 L2069.9 207.6 L2073.4 194.8 L2076.3 180.6 L2078.4 166.3 L2080.5 152.1 L2082.0 137.9" fill="none" stroke="#0000ff" stroke-width="5.8" stroke-linejoin="round" stroke-linecap="butt" />
<path d="M1567.1 253.1 L1569.3 254.5 L1572.1 263.1 L1575.0 270.2 L1579.2 277.3 L1586.3 281.6 L1593.4 285.8 L1600.6 290.1 L1607.7 295.8 L1613.4 300.0 L1619.1 300.8 L1626.2 299.3 L1633.3 298.6 L1640.4 298.6 L1646.1 295.8 L1650.3 290.1 L1653.2 281.6 L1657.5 268.8 L1661.7 254.5 L1666.0 241.7 L1670.3 228.9 L1674.5 216.1 L1678.8 206.2 L1683.1 197.6 L1687.3 189.1 L1691.6 182.0 L1695.9 173.4 L1700.1 164.9 L1704.4 156.4 L1707.2 149.3 L1708.7 137.9 L1727.2 137.9 L1730.0 152.1 L1735.7 173.4 L1742.8 209.0 L1748.5 230.3 L1752.8 243.2 L1757.0 257.4 L1761.3 267.3 L1765.6 273.0 L1769.8 271.6 L1774.1 265.9 L1778.4 258.8 L1782.6 253.1 L1786.9 248.8 L1792.6 246.0 L1796.9 248.8 L1801.1 257.4 L1805.4 270.2 L1809.7 284.4 L1813.9 298.6 L1818.2 311.4 L1822.5 325.7 L1826.7 339.9 L1831.0 351.3 L1835.3 361.2 L1841.0 371.2 L1846.7 376.9 L1852.3 378.3 L1858.0 375.4 L1863.7 371.2 L1869.4 368.3 L1875.0 366.9 L1882.1 364.8 L1889.2 364.1 L1893.5 358.4 L1897.8 349.8 L1902.0 335.6 L1906.3 318.5 L1910.6 301.5 L1913.4 287.2 L1917.7 275.9 L1921.9 267.3 L1927.6 258.8 L1934.7 260.2 L1941.9 261.6 L1946.1 261.6 L1951.8 256.0 L1957.5 247.4 L1963.2 236.0 L1968.9 223.2 L1974.6 210.4 L1980.3 196.2 L1984.5 184.8 L1988.8 180.6 L1994.5 180.6 L2000.2 182.0 L2005.9 186.3 L2011.6 191.9 L2017.2 197.6 L2022.9 203.3 L2028.6 206.2 L2034.3 204.7 L2040.0 201.9 L2045.7 200.5 L2052.8 200.5 L2058.5 199.1 L2062.8 193.4 L2065.6 184.8 L2068.5 173.4 L2071.3 162.1 L2074.1 152.1 L2075.6 137.9" fill="none" stroke="#00ffff" stroke-width="5.8" stroke-linejoin="round" stroke-linecap="butt" />
<path d="M1567.1 213.3 L1569.3 214.7 L1572.1 221.8 L1576.4 230.3 L1582.1 238.9 L1589.2 246.0 L1597.7 251.7 L1606.3 257.4 L1614.8 263.1 L1623.3 267.3 L1631.9 271.6 L1640.4 277.3 L1646.1 274.4 L1650.3 268.8 L1653.2 257.4 L1657.5 243.2 L1661.7 226.1 L1664.6 211.9 L1667.4 199.1 L1670.3 186.3 L1673.1 173.4 L1676.0 163.5 L1678.8 155.0 L1681.6 147.8 L1683.1 137.9 L1724.3 137.9 L1725.7 147.8 L1728.6 156.4 L1731.4 167.8 L1734.3 182.0 L1737.1 199.1 L1740.0 216.1 L1742.8 228.9 L1745.7 243.2 L1748.5 257.4 L1751.3 268.8 L1755.6 280.1 L1759.9 287.2 L1765.6 290.1 L1771.3 287.2 L1776.9 283.0 L1782.6 279.4 L1788.3 278.7 L1795.4 280.1 L1801.1 284.4 L1805.4 291.5 L1809.7 300.0 L1813.9 311.4 L1818.2 322.8 L1822.5 332.8 L1826.7 341.3 L1831.0 349.8 L1835.3 356.9 L1841.0 365.5 L1846.7 369.8 L1852.3 371.2 L1858.0 369.8 L1863.7 364.1 L1869.4 355.5 L1875.0 349.8 L1880.7 347.0 L1886.4 342.7 L1892.1 335.6 L1896.3 327.1 L1900.6 310.0 L1904.9 292.9 L1909.1 280.1 L1913.4 271.6 L1917.7 264.5 L1923.4 263.1 L1929.1 263.1 L1936.2 264.5 L1943.3 265.9 L1949.0 264.5 L1954.7 256.0 L1960.3 244.6 L1966.0 231.8 L1971.7 219.0 L1977.4 206.2 L1983.1 193.4 L1987.4 184.8 L1993.1 182.0 L1998.8 183.4 L2004.4 190.5 L2010.1 200.5 L2015.8 210.4 L2021.5 220.4 L2027.2 227.5 L2032.9 230.3 L2040.0 231.8 L2047.1 232.5 L2054.2 231.8 L2059.9 226.1 L2064.2 217.5 L2067.0 204.7 L2069.9 191.9 L2072.7 180.6 L2075.6 169.2 L2078.4 157.8 L2080.5 149.3 L2082.0 137.9" fill="none" stroke="#ffa500" stroke-width="5.8" stroke-linejoin="round" stroke-linecap="butt" />
</g>
<line x1="1880.9" y1="147" x2="1880.9" y2="603.2" stroke="#000" stroke-width="5.2" stroke-dasharray="40 18.45"/>
<rect x="1569.6" y="150" width="620.5" height="453.3" fill="none" stroke="#000" stroke-width="3.2"/>
<rect x="949.4" y="149.4" width="533.5" height="469.5" fill="#fff" stroke="#000" stroke-width="3.3"/>
<line x1="970" y1="192.9" x2="1059" y2="192.9" stroke="#000000" stroke-width="5.75"/>
<text transform="translate(1097.5 214.7) scale(1 1.045)" font-family="Liberation Sans, Arial, Helvetica, sans-serif" font-size="58.2">total DOS</text>
<line x1="970" y1="264.0" x2="1059" y2="264.0" stroke="#ff0000" stroke-width="5.75"/>
<text transform="translate(1097.5 279.8) scale(1 1.045)" font-family="Liberation Sans, Arial, Helvetica, sans-serif" font-size="58.2">pDOS Cs * 8</text>
<line x1="970" y1="340.9" x2="1059" y2="340.9" stroke="#00ff00" stroke-width="5.75"/>
<text transform="translate(1097.5 356.4) scale(1 1.045)" font-family="Liberation Sans, Arial, Helvetica, sans-serif" font-size="58.2">pDOS Na * 4</text>
<line x1="970" y1="416.9" x2="1059" y2="416.9" stroke="#0000ff" stroke-width="5.75"/>
<text transform="translate(1097.5 432.7) scale(1 1.045)" font-family="Liberation Sans, Arial, Helvetica, sans-serif" font-size="58.2">pDOS Hg1 * 1</text>
<line x1="970" y1="493.9" x2="1059" y2="493.9" stroke="#00ffff" stroke-width="5.75"/>
<text transform="translate(1097.5 509.8) scale(1 1.045)" font-family="Liberation Sans, Arial, Helvetica, sans-serif" font-size="58.2">pDOS Hg2 * 1</text>
<line x1="970" y1="570.9" x2="1059" y2="570.9" stroke="#ffa500" stroke-width="5.75"/>
<text transform="translate(1097.5 586.1) scale(1 1.045)" font-family="Liberation Sans, Arial, Helvetica, sans-serif" font-size="58.2">pDOS Hg3 * 4</text>
<rect x="224.6" y="45.2" width="2069.6" height="1449.9" fill="none" stroke="#000" stroke-width="3.2"/>
<line x1="224.6" y1="1495.1" x2="224.6" y2="1517.1" stroke="#000" stroke-width="3.3"/>
<line x1="372.4" y1="1495.1" x2="372.4" y2="1517.1" stroke="#000" stroke-width="3.3"/>
<line x1="520.3" y1="1495.1" x2="520.3" y2="1517.1" stroke="#000" stroke-width="3.3"/>
<line x1="668.1" y1="1495.1" x2="668.1" y2="1517.1" stroke="#000" stroke-width="3.3"/>
<line x1="815.9" y1="1495.1" x2="815.9" y2="1538.1" stroke="#000" stroke-width="3.3"/>
<line x1="963.7" y1="1495.1" x2="963.7" y2="1517.1" stroke="#000" stroke-width="3.3"/>
<line x1="1111.6" y1="1495.1" x2="1111.6" y2="1517.1" stroke="#000" stroke-width="3.3"/>
<line x1="1259.4" y1="1495.1" x2="1259.4" y2="1517.1" stroke="#000" stroke-width="3.3"/>
<line x1="1407.2" y1="1495.1" x2="1407.2" y2="1517.1" stroke="#000" stroke-width="3.3"/>
<line x1="1555.1" y1="1495.1" x2="1555.1" y2="1538.1" stroke="#000" stroke-width="3.3"/>
<line x1="1702.9" y1="1495.1" x2="1702.9" y2="1517.1" stroke="#000" stroke-width="3.3"/>
<line x1="1850.7" y1="1495.1" x2="1850.7" y2="1517.1" stroke="#000" stroke-width="3.3"/>
<line x1="1998.5" y1="1495.1" x2="1998.5" y2="1517.1" stroke="#000" stroke-width="3.3"/>
<line x1="2146.4" y1="1495.1" x2="2146.4" y2="1517.1" stroke="#000" stroke-width="3.3"/>
<line x1="2294.2" y1="1495.1" x2="2294.2" y2="1538.1" stroke="#000" stroke-width="3.3"/>
<text transform="translate(817.9 1600) scale(1 1.045)" font-family="Liberation Sans, Arial, Helvetica, sans-serif" font-size="58.2" text-anchor="middle">-5</text>
<text transform="translate(1557.1 1600) scale(1 1.045)" font-family="Liberation Sans, Arial, Helvetica, sans-serif" font-size="58.2" text-anchor="middle">0</text>
<text transform="translate(2296.2 1600) scale(1 1.045)" font-family="Liberation Sans, Arial, Helvetica, sans-serif" font-size="58.2" text-anchor="middle">5</text>
<line x1="181.6" y1="1495.1" x2="224.6" y2="1495.1" stroke="#000" stroke-width="3.3"/>
<line x1="202.6" y1="1398.4" x2="224.6" y2="1398.4" stroke="#000" stroke-width="3.3"/>
<line x1="202.6" y1="1301.8" x2="224.6" y2="1301.8" stroke="#000" stroke-width="3.3"/>
<line x1="202.6" y1="1205.1" x2="224.6" y2="1205.1" stroke="#000" stroke-width="3.3"/>
<line x1="202.6" y1="1108.5" x2="224.6" y2="1108.5" stroke="#000" stroke-width="3.3"/>
<line x1="181.6" y1="1011.8" x2="224.6" y2="1011.8" stroke="#000" stroke-width="3.3"/>
<line x1="202.6" y1="915.1" x2="224.6" y2="915.1" stroke="#000" stroke-width="3.3"/>
<line x1="202.6" y1="818.5" x2="224.6" y2="818.5" stroke="#000" stroke-width="3.3"/>
<line x1="202.6" y1="721.8" x2="224.6" y2="721.8" stroke="#000" stroke-width="3.3"/>
<line x1="202.6" y1="625.2" x2="224.6" y2="625.2" stroke="#000" stroke-width="3.3"/>
<line x1="181.6" y1="528.5" x2="224.6" y2="528.5" stroke="#000" stroke-width="3.3"/>
<line x1="202.6" y1="431.8" x2="224.6" y2="431.8" stroke="#000" stroke-width="3.3"/>
<line x1="202.6" y1="335.2" x2="224.6" y2="335.2" stroke="#000" stroke-width="3.3"/>
<line x1="202.6" y1="238.5" x2="224.6" y2="238.5" stroke="#000" stroke-width="3.3"/>
<line x1="202.6" y1="141.9" x2="224.6" y2="141.9" stroke="#000" stroke-width="3.3"/>
<line x1="181.6" y1="45.2" x2="224.6" y2="45.2" stroke="#000" stroke-width="3.3"/>
<text transform="translate(166 1515.9) scale(1 1.045)" font-family="Liberation Sans, Arial, Helvetica, sans-serif" font-size="58.2" text-anchor="end">0</text>
<text transform="translate(166 1032.6) scale(1 1.045)" font-family="Liberation Sans, Arial, Helvetica, sans-serif" font-size="58.2" text-anchor="end">5</text>
<text transform="translate(166 549.3) scale(1 1.045)" font-family="Liberation Sans, Arial, Helvetica, sans-serif" font-size="58.2" text-anchor="end">10</text>
<text transform="translate(166 66.0) scale(1 1.045)" font-family="Liberation Sans, Arial, Helvetica, sans-serif" font-size="58.2" text-anchor="end">15</text>
<text transform="translate(1107.6 1664.4) scale(1 1.045)" font-family="Liberation Sans, Arial, Helvetica, sans-serif" font-size="58.2">Energy / eV</text>
<text transform="translate(67.2 769) rotate(-90) scale(1 1.045)" font-family="Liberation Sans, Arial, Helvetica, sans-serif" font-size="58.2" text-anchor="middle">Density of States</text>
</svg>
</body></html>
